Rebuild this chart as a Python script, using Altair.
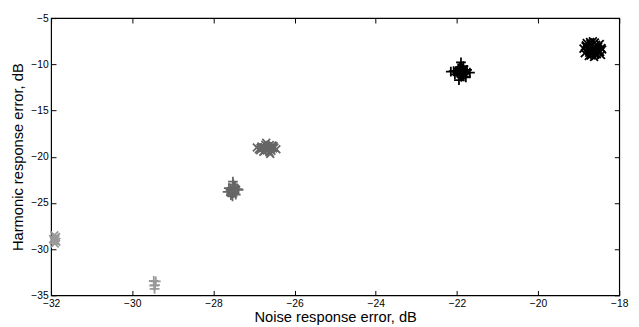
import altair as alt
import pandas as pd

# ---- data ----
series_names = ["A", "B", "C", "D", "E", "F"]

a_x = [-31.92, -31.88, -31.90, -31.95, -31.87, -31.91, -31.89, -31.93]
a_y = [-28.5, -28.7, -29.0, -28.9, -29.2, -29.4, -28.8, -29.1]

b_x = [-29.47, -29.44, -29.42, -29.46, -29.45]
b_y = [-33.45, -33.9, -33.5, -33.95, -34.3]

c_x = [-27.52, -27.48, -27.62, -27.40, -27.55, -27.50, -27.45, -27.58, -27.53, -27.47,
       -27.65, -27.38, -27.51, -27.56, -27.50, -27.54, -27.46, -27.57]
c_y = [-22.7, -23.2, -23.4, -23.5, -23.7, -23.9, -24.1, -23.6, -24.3, -23.3,
       -23.8, -23.6, -23.0, -24.0, -23.45, -23.85, -23.25, -24.15]

d_x = [-26.93, -26.45, -26.70, -26.60, -26.80, -26.55, -26.85, -26.65, -26.75, -26.50,
       -26.88, -26.62, -26.72, -26.58, -26.78, -26.68, -26.82, -26.52,
       -26.66, -26.74, -26.57, -26.84, -26.61, -26.77, -26.69, -26.53]
d_y = [-19.0, -19.2, -18.5, -19.7, -19.1, -18.8, -19.3, -18.9, -19.4, -19.0,
       -19.2, -19.5, -18.7, -19.1, -19.0, -19.3, -18.9, -18.85,
       -19.25, -18.95, -19.35, -19.05, -18.75, -19.45, -19.15, -19.1]

e_x = [-22.15, -21.68, -21.90, -21.95, -21.85, -22.02, -21.80, -21.92, -21.88, -22.05,
       -21.75, -21.98, -21.83, -21.93, -22.08, -21.78, -21.87, -21.96, -21.91, -21.84,
       -21.90, -21.94, -21.86, -21.99, -21.82, -21.89, -21.97, -21.81]
e_y = [-10.8, -10.9, -9.8, -11.7, -10.5, -10.7, -11.0, -11.2, -10.3, -11.1,
       -10.6, -10.9, -11.3, -10.4, -10.75, -11.4, -10.65, -11.05, -10.85, -10.2,
       -10.95, -10.55, -11.15, -10.85, -10.75, -11.35, -10.45, -11.0]

f_x = [-18.88, -18.42, -18.65, -18.75, -18.55, -18.80, -18.48, -18.60, -18.70, -18.85,
       -18.45, -18.58, -18.68, -18.52, -18.78, -18.62, -18.72, -18.50, -18.83, -18.44,
       -18.66, -18.57, -18.74, -18.63, -18.60, -18.70, -18.53, -18.77, -18.66, -18.47,
       -18.82, -18.59, -18.71, -18.64]
f_y = [-8.3, -8.4, -7.5, -9.1, -8.9, -7.7, -7.8, -8.6, -8.0, -8.8,
       -9.0, -8.2, -8.5, -8.1, -8.4, -9.2, -7.6, -8.7, -8.05, -8.25,
       -8.35, -7.9, -8.75, -8.55, -7.65, -9.05, -8.45, -8.15, -8.85, -8.65,
       -7.95, -8.95, -7.75, -8.45]

x_ticks = [-32, -30, -28, -26, -24, -22, -20, -18]
y_ticks = [-35, -30, -25, -20, -15, -10, -5]

# ---- styles ----
series_colors = ["#999999", "#999999", "#666666", "#666666", "#000000", "#000000"]
PLUS = "M-1,0H1M0,-1V1"
CROSS = "M-0.8,-0.8L0.8,0.8M-0.8,0.8L0.8,-0.8"
series_shapes = [CROSS, PLUS, PLUS, CROSS, PLUS, CROSS]

xs, ys, ss = [], [], []
for name, sx, sy in zip(series_names, [a_x, b_x, c_x, d_x, e_x, f_x],
                        [a_y, b_y, c_y, d_y, e_y, f_y]):
    xs += sx
    ys += sy
    ss += [name] * len(sx)
df = pd.DataFrame({"x": xs, "y": ys, "series": ss})

FONT = "Liberation Sans"
TFS = 15
xscale = alt.Scale(domain=[-32, -18], nice=False, zero=False)
yscale = alt.Scale(domain=[-35, -5], nice=False, zero=False)

points = alt.Chart(df).mark_point(filled=False, strokeWidth=1.8, size=100, opacity=1).encode(
    x=alt.X("x:Q", scale=xscale,
            axis=alt.Axis(orient="bottom", values=x_ticks, title="Noise response error, dB",
                          tickSize=0, domain=False, grid=False, labelPadding=3, labelFlush=False,
                          labelFont=FONT, labelFontSize=10.5, labelColor="black",
                          titleFont=FONT, titleFontSize=TFS, titleFontWeight="normal",
                          titleColor="black", titlePadding=1)),
    y=alt.Y("y:Q", scale=yscale,
            axis=alt.Axis(orient="left", values=y_ticks, title="Harmonic response error, dB",
                          tickSize=0, domain=False, grid=False, labelPadding=3, labelFlush=False,
                          labelFont=FONT, labelFontSize=10.5, labelColor="black",
                          titleFont=FONT, titleFontSize=TFS, titleFontWeight="normal",
                          titleColor="black", titlePadding=5)),
    color=alt.Color("series:N", scale=alt.Scale(domain=series_names, range=series_colors), legend=None),
    shape=alt.Shape("series:N", scale=alt.Scale(domain=series_names, range=series_shapes), legend=None),
)

ticks1 = alt.Chart(df).mark_point(opacity=0).encode(
    x=alt.X("x:Q", scale=xscale, axis=alt.Axis(orient="bottom", offset=-5, tickSize=5, values=x_ticks,
                                              tickColor="black", labels=False, domain=False, grid=False, title=None)),
    y=alt.Y("y:Q", scale=yscale, axis=alt.Axis(orient="left", offset=-5, tickSize=5, values=y_ticks,
                                              tickColor="black", labels=False, domain=False, grid=False, title=None)),
)
ticks2 = alt.Chart(df).mark_point(opacity=0).encode(
    x=alt.X("x:Q", scale=xscale, axis=alt.Axis(orient="top", offset=-5, tickSize=5, values=x_ticks,
                                              tickColor="black", labels=False, domain=False, grid=False, title=None)),
    y=alt.Y("y:Q", scale=yscale, axis=alt.Axis(orient="right", offset=-5, tickSize=5, values=y_ticks,
                                              tickColor="black", labels=False, domain=False, grid=False, title=None)),
)

chart = alt.layer(points, ticks1, ticks2).resolve_axis(
    x="independent", y="independent"
).properties(
    width=580, height=283,
    autosize=alt.AutoSizeParams(type="none"),
    padding={"left": 44, "top": 7, "right": 12, "bottom": 28},
).configure_view(stroke="black", strokeWidth=1.2)

chart.save("out.html", embed_options={"renderer": "svg", "actions": False})
